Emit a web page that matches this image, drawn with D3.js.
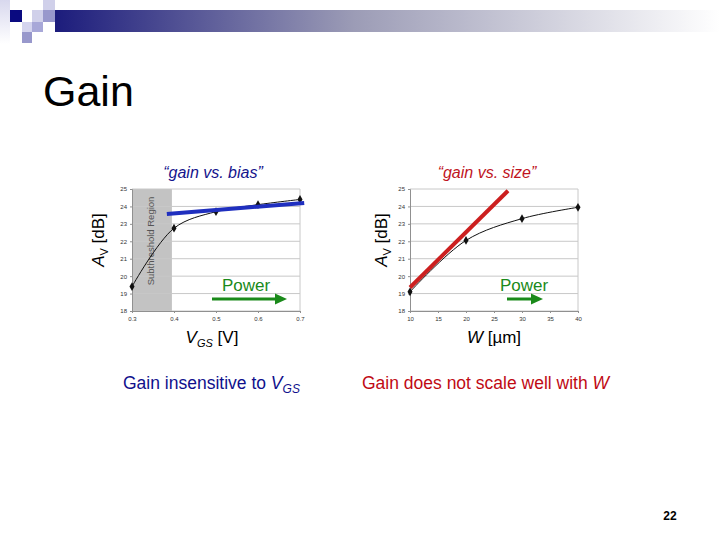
<!DOCTYPE html>
<html><head><meta charset="utf-8">
<script src="https://cdn.jsdelivr.net/npm/d3@7"></script>
<style>body{margin:0;background:#fff;}svg{display:block;font-family:Arial,"Liberation Sans",sans-serif;}</style>
</head><body>
<svg id="c" width="720" height="540"></svg>
<script>
// ---- data ----
const vgs = [0.3, 0.4, 0.5, 0.6, 0.7];
const gainBias = [19.4, 22.75, 23.7, 24.1, 24.4];
const biasFitX = [0.383, 0.71];
const biasFitY = [23.57, 24.2];
const widths = [10, 20, 30, 40];
const gainSize = [19.1, 22.05, 23.3, 23.95];
const sizeFitX = [10, 27.5];
const sizeFitY = [19.35, 24.9];
const yTicks = [18, 19, 20, 21, 22, 23, 24, 25];
const vgsTicks = [0.3, 0.4, 0.5, 0.6, 0.7];
const wTicks = [10, 15, 20, 25, 30, 35, 40];
const subthreshold = [0.3, 0.395];

const svg = d3.select("#c");
const defs = svg.append("defs");
const g1 = defs.append("linearGradient").attr("id","bar").attr("x1","0").attr("x2","1");
g1.append("stop").attr("offset","0").attr("stop-color","#1c1c7c");
g1.append("stop").attr("offset","0.45").attr("stop-color","#9c9cb6");
g1.append("stop").attr("offset","1").attr("stop-color","#ffffff");
const g2 = defs.append("linearGradient").attr("id","side").attr("x1","0").attr("x2","0").attr("y1","0").attr("y2","1");
g2.append("stop").attr("offset","0").attr("stop-color","#d8d8ee");
g2.append("stop").attr("offset","1").attr("stop-color","#ffffff");

// header decoration
svg.append("rect").attr("x",0).attr("y",0).attr("width",10).attr("height",44).attr("fill","url(#side)");
svg.append("rect").attr("x",55).attr("y",10).attr("width",665).attr("height",22).attr("fill","url(#bar)");
const sq = [[10,10,12,12,"#0a0a80"],[32,10,11,12,"#d0d0ea"],[43,0,12,10,"#d0d0ea"],[43,10,12,12,"#9898cc"],
            [22,22,10,10,"#d4d4ee"],[32,22,11,10,"#a8a8d8"],[22,32,10,11,"#9898cc"]];
sq.forEach(s=>svg.append("rect").attr("x",s[0]).attr("y",s[1]).attr("width",s[2]).attr("height",s[3]).attr("fill",s[4]));

svg.append("text").attr("x",43).attr("y",106).attr("font-size",43).attr("fill","#000").text("Gain");

const yScale = d3.scaleLinear().domain([18,25]).range([311,189]);

function panel(opts){
  const x = d3.scaleLinear().domain(opts.xDomain).range(opts.xRange);
  const g = svg.append("g");
  if (opts.shade){
    g.append("rect").attr("x",x(opts.shade[0])).attr("y",yScale(25))
     .attr("width",x(opts.shade[1])-x(opts.shade[0])).attr("height",yScale(18)-yScale(25)).attr("fill","#c3c3c3");
  }
  // grid
  g.selectAll(".gl").data(yTicks).join("line")
   .attr("x1",opts.xRange[0]).attr("x2",opts.xRange[1])
   .attr("y1",d=>yScale(d)).attr("y2",d=>yScale(d)).attr("stroke","#c8c8c8").attr("stroke-width",1);
  g.append("line").attr("x1",opts.xRange[1]).attr("x2",opts.xRange[1]).attr("y1",yScale(25)).attr("y2",yScale(18)).attr("stroke","#c8c8c8");
  // axes
  const ya = g.append("g").attr("transform",`translate(${opts.xRange[0]},0)`)
    .call(d3.axisLeft(yScale).tickValues(yTicks).tickSize(2).tickFormat(d3.format("d")));
  const xa = g.append("g").attr("transform",`translate(0,${yScale(18)})`)
    .call(d3.axisBottom(x).tickValues(opts.ticks).tickSize(2).tickFormat(opts.fmt));
  [ya,xa].forEach(a=>{
    a.select(".domain").attr("stroke","#909090");
    a.selectAll(".tick line").attr("stroke","#909090");
    a.selectAll("text").attr("font-size",6).attr("fill","#333").attr("font-family","Arial");
  });
  xa.selectAll("text").attr("dy","0.9em");
  if (opts.shade){
    const cx = (x(opts.shade[0])+x(opts.shade[1]))/2+2;
    g.append("text").attr("transform",`translate(${cx},241) rotate(-90)`).attr("text-anchor","middle")
     .attr("font-size",9.5).attr("fill","#555").text("Subthreshold Region");
  }
  const fit = d3.line().x(d=>x(d[0])).y(d=>yScale(d[1]));
  const line = d3.line().x(d=>x(d[0])).y(d=>yScale(d[1])).curve(d3.curveCatmullRom.alpha(0.5));
  const pts = opts.xs.map((v,i)=>[v,opts.ys[i]]);
  const fitPts = opts.fitX.map((v,i)=>[v,opts.fitY[i]]);
  g.append("path").attr("d",line(pts)).attr("stroke","#111").attr("stroke-width",1).attr("fill","none");
  g.selectAll(".pt").data(pts).join("path")
   .attr("transform",d=>`translate(${x(d[0])},${yScale(d[1])})`)
   .attr("d",d3.symbol(d3.symbolDiamond,22)).attr("fill","#111");
  g.append("path").attr("d",fit(fitPts)).attr("stroke",opts.fitColor).attr("stroke-width",4).attr("fill","none");
  // power
  g.append("text").attr("x",opts.powerX).attr("y",291).attr("text-anchor","middle").attr("font-size",17).attr("fill","#1a8a1a").text("Power");
  const a0 = opts.arrow[0], a1 = opts.arrow[1];
  g.append("line").attr("x1",a0).attr("x2",a1-10).attr("y1",299).attr("y2",299).attr("stroke","#1a8a1a").attr("stroke-width",3);
  g.append("path").attr("d",`M${a1},299 L${a1-12},293.5 L${a1-12},304.5 Z`).attr("fill","#1a8a1a");
  // titles
  g.append("text").attr("x",opts.titleX).attr("y",178).attr("text-anchor","middle").attr("font-size",16)
   .attr("font-style","italic").attr("fill",opts.titleColor).text(opts.title);
  const yl = g.append("text").attr("transform",`translate(${opts.yLabelX},240) rotate(-90)`).attr("text-anchor","middle")
   .attr("font-size",17).attr("fill","#000");
  yl.append("tspan").attr("font-style","italic").text("A");
  yl.append("tspan").attr("font-size",11).attr("dy",4).text("V");
  yl.append("tspan").attr("dy",-4).text(" [dB]");
  const xl = g.append("text").attr("x",opts.xLabelX).attr("y",343).attr("text-anchor","middle").attr("font-size",17).attr("fill","#000");
  opts.xLabel(xl);
}

panel({xDomain:[0.3,0.7], xRange:[132,300], ticks:vgsTicks, fmt:d3.format(".1f"), shade:subthreshold,
  xs:vgs, ys:gainBias, fitX:biasFitX, fitY:biasFitY, fitColor:"#1f2fbf",
  powerX:246, arrow:[212,287], title:"\u201cgain vs. bias\u201d", titleX:213, titleColor:"#14148c", xLabelX:212, yLabelX:104,
  xLabel: t=>{ t.append("tspan").attr("font-style","italic").text("V");
    t.append("tspan").attr("font-size",11).attr("dy",4).attr("font-style","italic").text("GS");
    t.append("tspan").attr("dy",-4).text(" [V]"); }});

panel({xDomain:[10,40], xRange:[410,578], ticks:wTicks, fmt:d3.format("d"), shade:null,
  xs:widths, ys:gainSize, fitX:sizeFitX, fitY:sizeFitY, fitColor:"#cc1f1f",
  powerX:524, arrow:[507,543], title:"\u201cgain vs. size\u201d", titleX:487, titleColor:"#c0141e", xLabelX:494, yLabelX:387,
  xLabel: t=>{ t.append("tspan").attr("font-style","italic").text("W");
    t.append("tspan").text(" [\u00b5m]"); }});

// bottom notes
const n1 = svg.append("text").attr("x",123).attr("y",389).attr("font-size",17.5).attr("fill","#10108c");
n1.append("tspan").text("Gain insensitive to ");
n1.append("tspan").attr("font-style","italic").text("V");
n1.append("tspan").attr("font-style","italic").attr("font-size",12).attr("dy",4).text("GS");
const n2 = svg.append("text").attr("x",362).attr("y",389).attr("font-size",17.5).attr("fill","#c00a14");
n2.append("tspan").text("Gain does not scale well with ");
n2.append("tspan").attr("font-style","italic").text("W");

svg.append("text").attr("x",670).attr("y",520).attr("text-anchor","middle").attr("font-size",12).attr("font-weight","bold").text("22");
</script>
</body></html>
